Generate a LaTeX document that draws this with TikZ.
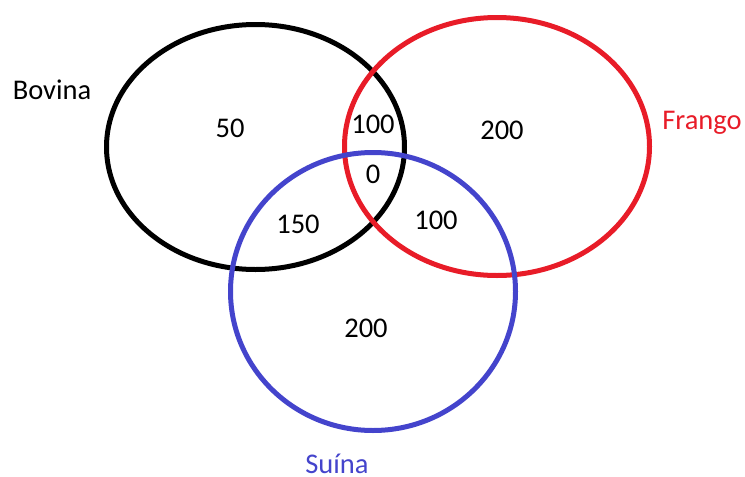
\documentclass[tikz,border=0pt]{standalone}
\usepackage{fontspec}
\setmainfont{Carlito}
\definecolor{vred}{RGB}{232,28,40}
\definecolor{vblue}{RGB}{68,68,204}
\begin{document}
\begin{tikzpicture}[x=1pt,y=-1pt,
  ring/.style={line width=5pt},
  lbl/.style={font=\fontsize{28.5}{32}\selectfont, inner sep=0pt, anchor=base}]
\useasboundingbox (0,0) rectangle (745,477);
\draw[ring, black] (255.5,147) ellipse [x radius=149, y radius=122.5];
\draw[ring, vred] (497,146.5) ellipse [x radius=152.5, y radius=129];
\draw[ring, vblue] (373,291.5) ellipse [x radius=142.5, y radius=139];
\node[lbl] (bov) at (52,99) {Bovina};
\node[lbl, text=vred] (fra) at (702,129) {Frango};
\node[lbl, text=vblue] (sui) at (337,473) {Suína};
\node[lbl] (n50) at (230,137) {50};
\node[lbl] (n100a) at (373,133) {100};
\node[lbl] (n200a) at (502,139) {200};
\node[lbl] (n0) at (373,183) {0};
\node[lbl] (n150) at (298,233) {150};
\node[lbl] (n100b) at (436,229) {100};
\node[lbl] (n200b) at (366,337) {200};
\end{tikzpicture}
\end{document}
